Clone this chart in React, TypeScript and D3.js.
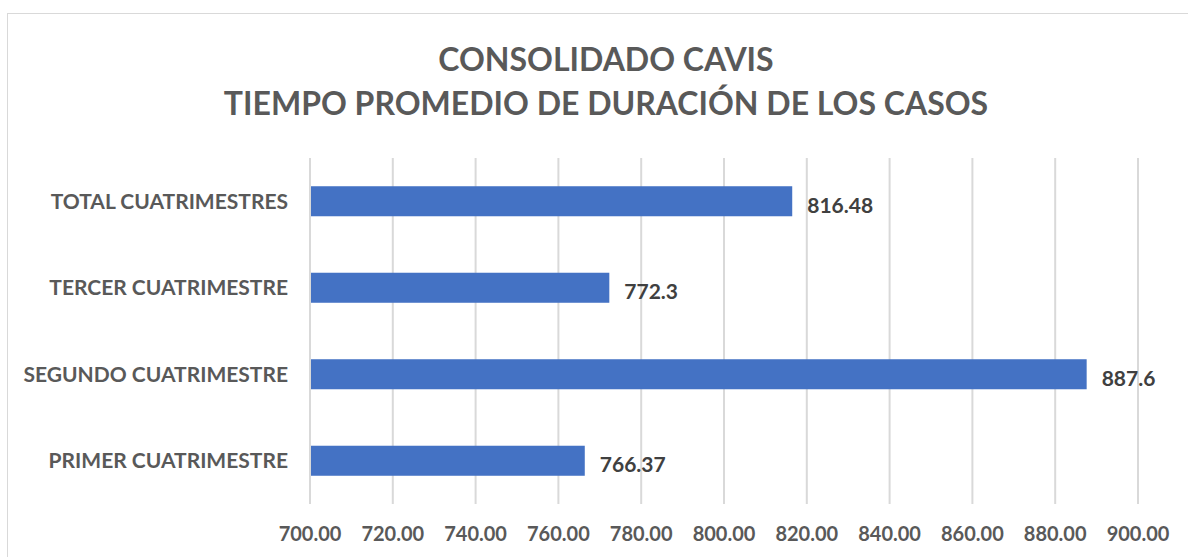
import React, { useEffect, useRef } from 'react';
import * as d3 from 'd3';

const categories = ['TOTAL CUATRIMESTRES', 'TERCER CUATRIMESTRE', 'SEGUNDO CUATRIMESTRE', 'PRIMER CUATRIMESTRE'];
const values = [816.48, 772.3, 887.6, 766.37];
const valueLabels = ['816.48', '772.3', '887.6', '766.37'];
const xTicks = [700, 720, 740, 760, 780, 800, 820, 840, 860, 880, 900];
const titleLines = ['CONSOLIDADO CAVIS', 'TIEMPO PROMEDIO DE DURACIÓN DE LOS CASOS'];

const FONT = "Lato, 'Open Sans', sans-serif";

const App: React.FC = () => {
  const svgRef = useRef<SVGSVGElement>(null);

  useEffect(() => {
    if (!svgRef.current) return;

    const W = 1188;
    const H = 557;
    const margin = { top: 158, right: 50, bottom: 53, left: 310 };

    d3.select(svgRef.current).selectAll("*").remove();

    const svg = d3.select(svgRef.current)
      .attr("width", W)
      .attr("height", H);

    svg.append("rect")
      .attr("x", 7.5)
      .attr("y", 13.5)
      .attr("width", W)
      .attr("height", H)
      .attr("fill", "#fff")
      .attr("stroke", "#d9d9d9")
      .attr("stroke-width", 1);

    svg.selectAll(".title")
      .data(titleLines)
      .enter()
      .append("text")
      .attr("x", 606)
      .attr("y", (d, i) => 71 + i * 44)
      .attr("text-anchor", "middle")
      .style("font-family", FONT)
      .style("font-weight", "bold")
      .style("font-size", "32px")
      .style("fill", "#595959")
      .text(d => d);

    const x = d3.scaleLinear()
      .domain([700, 900])
      .range([margin.left, 1138]);

    const y = d3.scaleBand()
      .domain(categories)
      .range([margin.top, H - margin.bottom])
      .padding(0);

    const barH = y.bandwidth() * 0.347;

    // gridlines
    svg.append("g")
      .selectAll("line")
      .data(xTicks)
      .enter()
      .append("line")
      .attr("x1", d => x(d))
      .attr("x2", d => x(d))
      .attr("y1", margin.top)
      .attr("y2", H - margin.bottom)
      .attr("stroke", "#d9d9d9")
      .attr("stroke-width", 2);

    // x tick labels
    svg.append("g")
      .selectAll("text")
      .data(xTicks)
      .enter()
      .append("text")
      .attr("x", d => x(d))
      .attr("y", 541)
      .attr("text-anchor", "middle")
      .style("font-family", FONT)
      .style("font-weight", "bold")
      .style("font-size", "20px")
      .style("fill", "#595959")
      .text(d => d3.format(".2f")(d));

    // category labels
    svg.append("g")
      .selectAll("text")
      .data(categories)
      .enter()
      .append("text")
      .attr("x", 288)
      .attr("y", d => y(d)! + y.bandwidth() / 2)
      .attr("dy", "0.35em")
      .attr("text-anchor", "end")
      .style("font-family", FONT)
      .style("font-weight", "bold")
      .style("font-size", "21px")
      .style("fill", "#595959")
      .text(d => d);

    const rows = categories.map((c, i) => ({ c, v: values[i], label: valueLabels[i] }));

    svg.append("g")
      .selectAll("rect")
      .data(rows)
      .enter()
      .append("rect")
      .attr("x", x(700) + 1)
      .attr("y", d => y(d.c)! + (y.bandwidth() - barH) / 2)
      .attr("width", d => x(d.v) - x(700) - 1)
      .attr("height", barH)
      .style("fill", "#4472C4");

    svg.append("g")
      .selectAll("text")
      .data(rows)
      .enter()
      .append("text")
      .attr("x", d => x(d.v) + 15)
      .attr("y", d => y(d.c)! + y.bandwidth() / 2 + 4)
      .attr("dy", "0.35em")
      .style("font-family", FONT)
      .style("font-weight", "bold")
      .style("font-size", "21px")
      .style("fill", "#404040")
      .text(d => d.label);
  }, []);

  return <svg ref={svgRef} style={{ position: 'absolute', left: 0, top: 0 }} />;
};

export default App;
